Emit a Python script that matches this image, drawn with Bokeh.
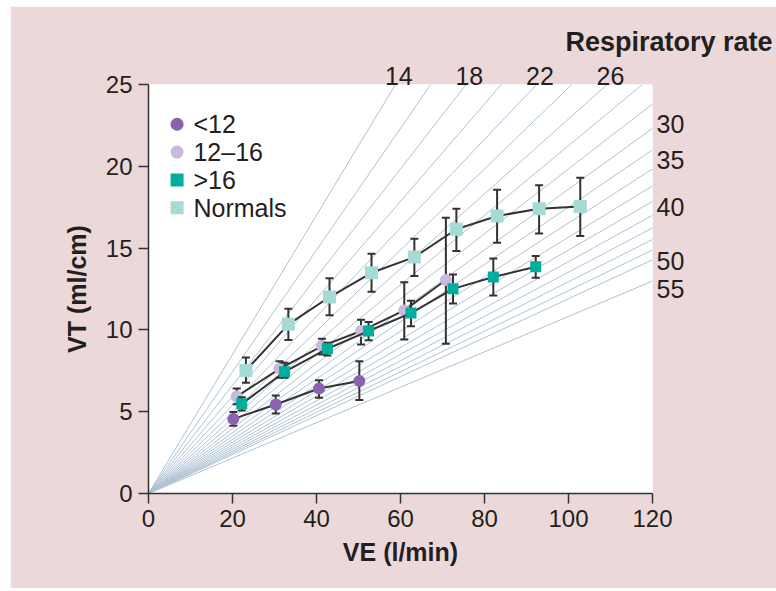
from bokeh.plotting import figure
from bokeh.models import Range1d, FixedTicker, LinearAxis
from bokeh.core.properties import value
from bokeh.embed import file_html
from bokeh.resources import INLINE

# ---------------- data ----------------
ML_PER_CM_FACTOR = 1000.0 / 168.0  # VT(ml/cm) = factor * VE(l/min) / rate

iso_rates = [14, 16, 18, 20, 22, 24, 26, 28, 30, 32, 34, 36, 38, 40, 42, 44, 46, 48, 50, 55]
top_rate_labels = [14, 18, 22, 26]
right_rate_labels = [30, 35, 40, 50, 55]

x_ticks = [0, 20, 40, 60, 80, 100, 120]
y_ticks = [0, 5, 10, 15, 20, 25]

legend_labels = ["<12", "12\u201316", ">16", "Normals"]

lt12_x = [20.2, 30.3, 40.6, 50.2]
lt12_y = [4.56, 5.44, 6.42, 6.87]
lt12_lo = [4.14, 4.89, 5.85, 5.71]
lt12_hi = [4.98, 5.99, 6.93, 8.09]

mid_x = [21.0, 31.2, 41.3, 50.6, 60.9, 70.8]
mid_y = [5.93, 7.62, 9.01, 9.93, 11.19, 13.05]
mid_lo = [5.46, 7.07, 8.50, 9.11, 9.42, 9.15]
mid_hi = [6.42, 8.09, 9.46, 10.62, 12.92, 16.86]

gt16_x = [22.2, 32.4, 42.6, 52.4, 62.5, 72.5, 82.1, 92.2]
gt16_y = [5.48, 7.44, 8.85, 9.93, 11.03, 12.51, 13.23, 13.86]
gt16_lo = [5.08, 7.07, 8.44, 9.36, 10.22, 11.62, 12.11, 13.19]
gt16_hi = [5.89, 7.99, 9.21, 10.48, 11.78, 13.39, 14.37, 14.51]

norm_x = [23.2, 33.3, 43.1, 53.1, 63.3, 73.3, 83.0, 93.0, 102.8]
norm_y = [7.52, 10.34, 12.01, 13.49, 14.45, 16.15, 16.96, 17.41, 17.55]
norm_lo = [6.77, 9.38, 10.89, 12.33, 13.29, 14.82, 15.33, 15.90, 15.74]
norm_hi = [8.32, 11.29, 13.15, 14.65, 15.57, 17.41, 18.57, 18.84, 19.30]

# ---------------- style ----------------
PINK = "#ecd8d8"
INK = "#231f20"
DARK = "#333333"
ISO = "#afc2d4"
FONT = "Liberation Sans"
C_LT12 = "#8a63ad"
C_MID = "#c9b9dd"
C_GT16 = "#00ae9d"
C_NORM = "#a6dbd5"

XMAX, YMAX = 120, 25

p = figure(frame_width=504, frame_height=409,
           x_range=Range1d(0, XMAX), y_range=Range1d(0, YMAX),
           output_backend="svg", toolbar_location=None,
           min_border_left=138, min_border_right=124,
           min_border_top=78, min_border_bottom=95,
           border_fill_color=PINK, background_fill_color="white",
           outline_line_color=None, margin=(6, 0, 3, 10))

p.xgrid.grid_line_color = None
p.ygrid.grid_line_color = None

for ax, ticks in ((p.xaxis, x_ticks), (p.yaxis, y_ticks)):
    ax.ticker = FixedTicker(ticks=ticks)
    ax.axis_line_color = DARK
    ax.axis_line_width = 1.5
    ax.major_tick_line_color = DARK
    ax.major_tick_line_width = 1.5
    ax.major_tick_out = 10
    ax.major_tick_in = 0
    ax.minor_tick_line_color = None
    ax.major_label_text_font = FONT
    ax.major_label_text_font_size = "24px"
    ax.major_label_text_color = INK
    ax.axis_label_text_font = FONT
    ax.axis_label_text_font_size = "25px"
    ax.axis_label_text_font_style = "bold"
    ax.axis_label_text_color = INK

p.xaxis.axis_label = "VE (l/min)"
p.yaxis.axis_label = "VT (ml/cm)"
p.xaxis.major_label_standoff = 6
p.yaxis.major_label_standoff = 6
p.xaxis.axis_label_standoff = 8
p.yaxis.axis_label_standoff = 12

# iso respiratory-rate lines from the origin
xs, ys = [], []
for rr in iso_rates:
    x_end = min(XMAX, YMAX * rr / ML_PER_CM_FACTOR)
    xs.append([0, x_end])
    ys.append([0, ML_PER_CM_FACTOR * x_end / rr])
p.multi_line(xs, ys, line_color=ISO, line_width=1)

def series(x, y, lo, hi, color, marker, size):
    p.line(x, y, line_color=DARK, line_width=2)
    p.segment(x0=x, y0=lo, x1=x, y1=hi, line_color=DARK, line_width=2)
    p.scatter(x + x, lo + hi, marker="dash", size=8, line_color=DARK, line_width=2)
    return p.scatter(x, y, marker=marker, size=size, fill_color=color, line_color=None)

series(norm_x, norm_y, norm_lo, norm_hi, C_NORM, "square", 13)
series(mid_x, mid_y, mid_lo, mid_hi, C_MID, "circle", 12)
series(gt16_x, gt16_y, gt16_lo, gt16_hi, C_GT16, "square", 11)
series(lt12_x, lt12_y, lt12_lo, lt12_hi, C_LT12, "circle", 12)

# key (top-left, inside the plot area)
LEG_X, LEG_Y, LEG_STEP, LEG_TEXT_DX = 6.8, 22.57, 1.70, 3.9
leg_colors = [C_LT12, C_MID, C_GT16, C_NORM]
leg_markers = ["circle", "circle", "square", "square"]
leg_y = [LEG_Y - i * LEG_STEP for i in range(len(legend_labels))]
p.scatter([LEG_X] * len(legend_labels), leg_y, marker=leg_markers, size=13,
          fill_color=leg_colors, line_color=None)
p.text([LEG_X + LEG_TEXT_DX] * len(legend_labels), leg_y, text=legend_labels,
       text_font=value(FONT), text_font_size="25px", text_color=INK,
       text_align="left", text_baseline="middle")

def label_axis(loc, ticks, texts, standoff):
    ax = LinearAxis(ticker=FixedTicker(ticks=ticks),
                    major_label_overrides={t: s for t, s in zip(ticks, texts)},
                    axis_line_color=None, major_tick_line_color=None,
                    minor_tick_line_color=None, major_tick_out=0, major_tick_in=0,
                    major_label_standoff=standoff,
                    major_label_text_font=FONT, major_label_text_font_size="25px",
                    major_label_text_color=INK)
    p.add_layout(ax, loc)

# rate labels along the top and right edges
top_ticks = [round(YMAX * rr / ML_PER_CM_FACTOR + 0.8, 2) for rr in top_rate_labels]
label_axis("above", top_ticks, [str(r) for r in top_rate_labels], 0)
right_label_y = [22.6, 20.4, 17.5, 14.2, 12.5]
label_axis("right", right_label_y, [str(r) for r in right_rate_labels], 4)

p.title.text = "Respiratory rate"
p.title.align = "left"
p.title.offset = 417
p.title.standoff = 14
p.title.text_font = FONT
p.title.text_font_size = "27px"
p.title.text_font_style = "bold"
p.title.text_color = INK

open("out.html", "w").write(file_html(p, INLINE))
